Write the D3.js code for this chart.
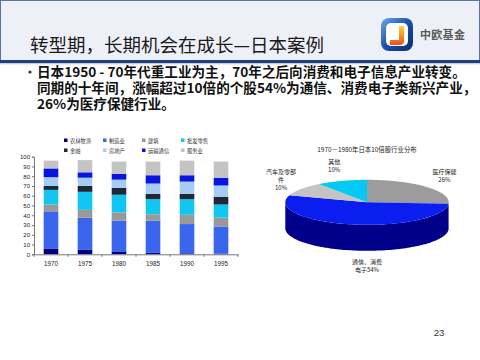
<!DOCTYPE html>
<html><head><meta charset="utf-8">
<script src="https://cdn.jsdelivr.net/npm/d3@7"></script>
<style>
html,body{margin:0;padding:0;background:#fff;}
svg{display:block;font-family:"Noto Sans CJK SC","Noto Sans",sans-serif;}
</style></head>
<body><svg id="c" width="480" height="360"></svg>
<script>
// ---- data ----
const years = ["1970","1975","1980","1985","1990","1995"];
const seriesNames = ["农林牧渔","制造业","建筑","批发零售","金融","房地产","运输通信","服务业"];
const sAgri   = [6, 4.5, 3, 1.5, 1, 0.5];
const sManu   = [38, 33, 31.5, 33, 30, 28];
const sBuild  = [7, 8, 8.5, 6.5, 9.5, 9];
const sTrade  = [15, 18.5, 18, 15.5, 16, 13.5];
const sFin    = [4, 6, 7, 5.5, 5.5, 8];
const sEstate = [9, 8.5, 8.5, 10.5, 12.5, 11.5];
const sTrans  = [9, 5.5, 6, 8.5, 6.5, 8];
const sServ   = [8, 12.5, 12.5, 14, 15, 16.5];
const yTicks = [0,10,20,30,40,50,60,70,80,90,100];

const pieTitle = "1970－1980年日本10倍股行业分布";
const pieLabels = ["医疗保健\n26%","通信、消费\n电子54%","汽车及零部\n件\n10%","其他\n10%"];
const pieValues = [26, 54, 10, 10];

const titleText = "转型期，长期机会在成长—日本案例";
const bodyLines = ["日本1950 - 70年代重工业为主，70年之后向消费和电子信息产业转变。",
                   "同期的十年间，涨幅超过10倍的个股54%为通信、消费电子类新兴产业，",
                   "26%为医疗保健行业。"];
const pageNum = "23";

// ---- styles ----
const barColors = ["#000080","#3a66ee","#999999","#12c6f2","#1e2838","#a6ccf6","#0a14e0","#c4c4c4"];
const pieTop = ["#9c9c9c","#0a1ef0","#c4c4c4","#06c8f4"];
const pieSide = ["#6e6e6e","#00008a","#8a8a8a","#0090b0"];

const svg = d3.select("#c");

// ---- header ----
const defs = svg.append("defs");
const lg = defs.append("linearGradient").attr("id","logoG").attr("x1","0").attr("y1","0").attr("x2","1").attr("y2","1");
lg.append("stop").attr("offset","0").attr("stop-color","#6fa8e8");
lg.append("stop").attr("offset","0.5").attr("stop-color","#1b4fa8");
lg.append("stop").attr("offset","1").attr("stop-color","#0a2a6a");
const og = defs.append("linearGradient").attr("id","jG").attr("x1","0").attr("y1","0").attr("x2","0").attr("y2","1");
og.append("stop").attr("offset","0").attr("stop-color","#ffd23a");
og.append("stop").attr("offset","1").attr("stop-color","#e8501a");
const hg = defs.append("linearGradient").attr("id","shadowG").attr("x1","0").attr("y1","0").attr("x2","0").attr("y2","1");
hg.append("stop").attr("offset","0").attr("stop-color","#8090b0").attr("stop-opacity",0.6);
hg.append("stop").attr("offset","1").attr("stop-color","#ffffff").attr("stop-opacity",0);

svg.append("rect").attr("x",0.5).attr("y",0.5).attr("width",479).attr("height",61)
  .attr("fill","#eef0f7").attr("stroke","#5a74a8").attr("stroke-width",1);
svg.append("rect").attr("x",0).attr("y",60).attr("width",480).attr("height",3).attr("fill","#1d3f80");
svg.append("rect").attr("x",0).attr("y",63).attr("width",480).attr("height",3).attr("fill","url(#shadowG)");

svg.append("text").attr("x",30).attr("y",52).attr("font-size",18.5).attr("fill","#1a1a1a")
  .text(titleText);

// logo
svg.append("rect").attr("x",381).attr("y",18).attr("width",32).attr("height",33).attr("rx",8)
  .attr("fill","url(#logoG)");
svg.append("rect").attr("x",386).attr("y",23).attr("width",22).attr("height",23).attr("rx",5)
  .attr("fill","#ffffff");
svg.append("path").attr("d","M399,26 L404,26 L404,41 Q404,45 400,45 L390,45 L390,40 L399,40 Z")
  .attr("fill","url(#jG)");
svg.append("text").attr("x",420).attr("y",39).attr("font-size",11).attr("font-weight","bold")
  .attr("fill","#5a5a5a").attr("letter-spacing",0.3).text("中欧基金");

// body text (one paragraph)
svg.append("circle").attr("cx",30).attr("cy",72).attr("r",1.6).attr("fill","#333");
const body = svg.append("text").attr("font-size",13.6).attr("font-weight","bold").attr("fill","#111");
bodyLines.forEach((t,i)=>{
  body.append("tspan").attr("x",37).attr("y",77+i*16).text(t);
});

// ---- stacked bar chart ----
const series = [sAgri,sManu,sBuild,sTrade,sFin,sEstate,sTrans,sServ];
const rows = years.map((y,i)=>{
  const o = {year:y};
  seriesNames.forEach((n,j)=>o[n]=series[j][i]);
  return o;
});
const stack = d3.stack().keys(seriesNames)(rows);
const x = d3.scaleBand().domain(years).range([34,238]).paddingInner(0.57).paddingOuter(0.285);
const y = d3.scaleLinear().domain([0,100]).range([254.3,156.7]);
const bar = svg.append("g");
bar.selectAll("g.s").data(stack).join("g").attr("fill",(d,i)=>barColors[i])
  .selectAll("rect").data(d=>d).join("rect")
  .attr("x",d=>x(d.data.year)).attr("width",x.bandwidth())
  .attr("y",d=>y(d[1])).attr("height",d=>y(d[0])-y(d[1]));

const yAx = svg.append("g").attr("transform","translate(34,0)")
  .call(d3.axisLeft(y).tickValues(yTicks).tickSize(2).tickPadding(2));
yAx.selectAll("text").attr("font-size",6).attr("fill","#222").attr("font-family","Liberation Sans,Arial,sans-serif");
yAx.selectAll("line,path").attr("stroke","#777");

const xAx = svg.append("g").attr("transform","translate(0,254.3)")
  .call(d3.axisBottom(x).tickSize(0).tickPadding(7));
xAx.selectAll("text").attr("font-size",6.3).attr("fill","#222").attr("font-family","Liberation Sans,Arial,sans-serif");
xAx.select("path").attr("stroke","#777");
const edges = years.map(yv=>x(yv)-x.step()*x.paddingInner()/2).concat([x(years[years.length-1])+x.bandwidth()+x.step()*x.paddingInner()/2]);
xAx.selectAll("line.edge").data(edges).join("line").attr("class","edge")
  .attr("x1",d=>d).attr("x2",d=>d).attr("y1",0).attr("y2",2.5).attr("stroke","#777");

// legend
const leg = svg.append("g");
seriesNames.forEach((n,i)=>{
  const col = i%4, row = Math.floor(i/4);
  const lx = 64 + col*39, ly = 141 + row*10;
  leg.append("rect").attr("x",lx).attr("y",ly-2.5).attr("width",3.5).attr("height",3.5).attr("fill",barColors[i]);
  leg.append("text").attr("x",lx+6).attr("y",ly+1.5).attr("font-size",5.3).attr("fill","#333").text(n);
});

// ---- 3D pie ----
const cx = 367, cy = 202.3, rx = 81.7, ry = 22.5, depth = 26;
const pie = d3.pie().sort(null).startAngle(0).endAngle(2*Math.PI)(pieValues);
const pt = (a,dy=0)=>[cx + rx*Math.sin(a), cy - ry*Math.cos(a) + dy];
const arcPts = (a0,a1,dy=0)=>{
  const n = Math.max(2, Math.ceil((a1-a0)/0.03));
  return d3.range(n+1).map(k=>pt(a0+(a1-a0)*k/n,dy));
};
const pg = svg.append("g");
pie.forEach((s,i)=>{
  const a0 = Math.max(s.startAngle, Math.PI/2), a1 = Math.min(s.endAngle, 3*Math.PI/2);
  if (a1 <= a0) return;
  const top = arcPts(a0,a1,0), bot = arcPts(a0,a1,depth).reverse();
  pg.append("path").attr("d", d3.line()(top.concat(bot))+"Z").attr("fill",pieSide[i]);
});
pie.forEach((s,i)=>{
  const p = [[cx,cy]].concat(arcPts(s.startAngle,s.endAngle,0));
  pg.append("path").attr("d", d3.line()(p)+"Z").attr("fill",pieTop[i]);
});
pie.forEach((s,i)=>{
  const a = (s.startAngle+s.endAngle)/2;
  const front = Math.cos(a) < 0;
  const lx = cx + rx*Math.sin(a)*(front?0.0:1.3);
  const ly = cy - ry*Math.cos(a)*1.7 + (front?depth:0);
  const lines = pieLabels[i].split("\n");
  const t = svg.append("text").attr("text-anchor","middle").attr("font-size",6).attr("fill","#222");
  lines.forEach((l,k)=>{
    t.append("tspan").attr("x",lx).attr("y",ly + (k-(lines.length-1)/2)*8 + 2).text(l);
  });
});
svg.append("text").attr("x",367).attr("y",152).attr("text-anchor","middle").attr("font-size",6.4)
  .attr("fill","#222").text(pieTitle);

// page number
svg.append("text").attr("x",439).attr("y",336).attr("text-anchor","middle").attr("font-size",9.5)
  .attr("fill","#333").attr("font-family","Liberation Sans,Arial,sans-serif").text(pageNum);
</script></body></html>
